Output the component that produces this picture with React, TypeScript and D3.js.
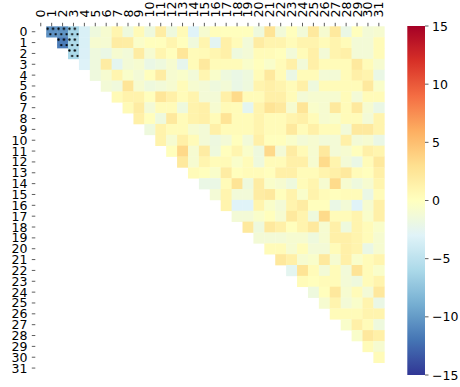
import React from "react";
import * as d3 from "d3";

// Row / column labels of the 32x32 matrix
const indexLabels: string[] = d3.range(32).map(String);

// Upper triangle: row i holds the values for columns i+1 .. 31
const rowValues: number[][] = [
  [-10.5, -10.4, -6.3, -3.4, -1.6, -0.9, 1.0, -1.6, 0.5, -1.6, 1.7, -1.6, 0.5, -3.0, -0.9, 0.2, 0.1, 0.1, 0.1, -1.6, 2.6, -1.3, 0.1, -1.3, 2.1, -0.9, 2.1, -2.0, 0.1, -1.2, -0.9],
  [-11.6, -5.8, -3.4, -0.9, -1.0, 1.8, 1.7, -0.5, 0.1, 0.1, 1.0, 0.1, -1.5, 1.0, -2.7, 1.5, 0.4, -1.3, 1.8, 1.1, 1.1, 0.4, 1.1, 1.1, 0.4, 1.1, 0.4, -1.2, -1.2, 0.4],
  [-6.0, -3.3, -1.6, -2.0, -0.9, -1.3, 1.8, -0.9, 1.0, 0.1, 2.4, 0.4, 0.5, 0.9, 1.5, -1.6, -1.2, 0.4, 0.4, 0.1, -1.3, 0.4, 1.5, -1.2, 1.1, 1.5, -1.2, -1.2, 0.4],
  [-3.1, -1.6, 1.8, -2.6, -1.2, -0.9, -2.0, -1.6, -0.9, -2.4, 0.4, 2.1, 0.4, 0.4, 0.4, -0.6, 0.1, -0.6, 0.4, 1.5, -1.3, 1.5, 0.4, 0.4, 0.4, 2.1, 0.4, -0.9],
  [-1.6, -0.9, 1.0, -0.6, -1.2, 0.1, 1.8, -0.9, -0.6, -1.3, 0.9, -0.6, -1.6, -2.0, -1.6, 0.4, 2.1, 0.4, -2.0, 0.4, 0.4, -1.2, -1.2, 0.4, 1.5, 1.1, -2.0],
  [-1.2, -1.5, 2.5, -0.9, -1.6, -1.3, -0.9, 0.4, -0.9, -1.2, -1.6, -1.2, -2.0, -1.6, 1.1, 1.5, 1.1, 0.4, 1.5, -1.6, 0.4, 0.4, 0.4, 0.4, 2.1, -0.6],
  [0.5, 1.2, 1.2, 0.1, 2.4, 1.5, 0.4, 1.1, -1.2, -1.2, 1.5, 3.3, 0.4, 0.4, 1.5, 1.5, 0.4, -1.2, -0.9, -0.9, -0.9, 0.4, -1.2, 0.4, 0.4],
  [0.5, 1.8, -1.2, 0.4, 0.4, -1.6, 1.2, 1.5, -0.9, 0.5, 0.4, -2.6, 1.1, 2.6, 2.1, -0.9, 2.5, -0.6, -0.9, 2.1, 0.4, 2.1, -0.9, -2.0],
  [1.5, 0.1, -1.6, 2.1, 0.4, 1.2, 1.5, 0.4, 2.6, 0.4, 0.4, 1.1, 0.4, 0.4, 1.1, 1.5, 0.4, -0.9, -0.6, 0.4, 0.4, -1.2, 1.1],
  [-1.6, 1.2, 0.4, 0.4, -0.9, -1.2, 1.5, 0.4, 0.4, 0.4, 1.1, 0.4, 0.4, 2.1, 0.4, 1.5, 0.4, 0.4, -1.3, 2.1, 2.1, 1.1],
  [1.2, -0.9, 1.5, 0.4, -1.2, -1.7, -1.2, 0.1, -1.3, 1.5, 0.1, 0.1, -0.6, -1.2, -0.9, -1.3, -1.2, 1.5, -1.2, -0.9, -2.0],
  [0.1, 3.4, -0.9, 1.8, -1.6, 0.1, 1.0, -0.6, -1.6, 3.4, -1.2, 1.8, 0.5, -0.9, 2.1, -1.2, -0.9, 0.1, 1.5, 1.0],
  [2.1, -0.9, 1.0, 0.4, 0.5, -0.6, 0.4, -1.6, 0.4, 0.4, 1.5, 1.5, -0.9, 3.3, 1.1, -1.2, -2.0, 0.4, 2.1],
  [0.4, 0.1, -0.6, 1.8, 0.1, 0.4, 0.4, 0.1, 1.5, 1.5, 0.4, 0.4, 1.1, 1.5, 2.1, 0.4, 0.1, 1.5],
  [-2.0, -2.0, 0.4, 2.6, -1.6, 1.8, -0.6, -0.9, -1.6, 0.4, 1.0, -0.9, 3.3, -0.9, -1.6, -0.9, 1.0],
  [-1.2, 1.0, -1.3, -1.3, 1.8, 2.1, 0.1, 1.2, -0.6, 1.2, 0.4, 0.1, 0.4, 0.4, -2.0, 0.4],
  [1.1, -3.0, -3.0, 1.1, -0.6, -1.2, 1.1, 1.8, 0.1, 0.1, -2.0, -1.2, -3.0, -0.9, 1.5],
  [-1.2, -1.2, -0.6, 0.1, -0.9, 2.1, 1.1, -1.6, 3.3, 0.4, 0.4, 1.1, -0.6, 1.5],
  [2.1, -1.6, 2.1, 1.5, 0.1, 1.1, 2.1, -0.9, 1.5, -1.6, 1.1, 0.4, -0.6],
  [-1.2, -1.2, -1.2, -0.9, -0.9, -1.6, -0.9, 1.5, 1.5, 1.1, 0.4, -0.9],
  [0.4, 0.4, -0.9, 0.3, -1.2, -1.2, 0.4, 1.5, 1.1, -2.0, -0.9],
  [2.2, 1.5, -0.9, -0.6, 2.1, -0.9, 1.5, -0.6, 0.4, 1.0],
  [-2.6, 2.6, 0.4, -1.2, 0.4, -1.3, 2.6, 0.4, -0.6],
  [0.4, 0.1, 0.4, 0.4, -1.2, -1.6, 0.4, 1.1],
  [-1.6, 0.1, 2.2, -0.9, 0.4, -1.2, 2.2],
  [-0.9, 1.1, -1.2, -0.6, 1.1, -2.0],
  [0.4, 0.4, 0.4, 1.1, 1.1],
  [-0.6, 1.5, 0.4, -1.6],
  [-0.6, 2.2, 1.5],
  [0.4, -0.9],
  [0.4],
];

// Cells flagged as significant (row, column), drawn with a dot hatch
const significantCells: [number, number][] = [
  [0, 1], [0, 2], [0, 3], [1, 2], [1, 3], [2, 3],
];

const colorbarTicks: number[] = [15, 10, 5, 0, -5, -10, -15];
const valueMin = -15;
const valueMax = 15;

const WIDTH = 460;
const HEIGHT = 387;
const PLOT = { left: 35.3, right: 384.3, top: 26.3, bottom: 373.5 };
const BAR = { left: 407.3, right: 425, top: 26, bottom: 375 };
const FONT = "'DejaVu Sans', sans-serif";
const FS = 12.5;

// Reversed RdYlBu, piecewise-linear through the 11 anchor colours
const anchors = [...d3.schemeRdYlBu[11]].reverse();
const color = d3
  .scaleLinear<string>()
  .domain(anchors.map((_, i) => valueMin + ((valueMax - valueMin) * i) / (anchors.length - 1)))
  .range(anchors)
  .interpolate(d3.interpolateRgb)
  .clamp(true);

export default function App() {
  const x = d3.scaleBand<string>().domain(indexLabels).range([PLOT.left, PLOT.right]);
  const y = d3.scaleBand<string>().domain(indexLabels).range([PLOT.top, PLOT.bottom]);
  const bw = x.bandwidth();
  const bh = y.bandwidth();

  const cells = rowValues.flatMap((vals, i) =>
    vals.map((v, k) => ({ row: i, col: i + 1 + k, value: v }))
  );

  const barScale = d3.scaleLinear().domain([valueMin, valueMax]).range([BAR.bottom, BAR.top]);
  const stops = d3.range(0, 1.0001, 0.02);

  return (
    <svg
      width={WIDTH}
      height={HEIGHT}
      style={{ position: "absolute", left: 0, top: 0, background: "#fff" }}
      fontFamily={FONT}
    >
      <defs>
        <pattern
          id="dots"
          patternUnits="userSpaceOnUse"
          x={PLOT.left}
          y={PLOT.top}
          width={bw / 2}
          height={bh}
        >
          <circle cx={1.4} cy={2.5} r={1.15} fill="#000" />
          <circle cx={4.1} cy={8.0} r={1.15} fill="#000" />
        </pattern>
        <linearGradient id="cbar" x1="0" y1="1" x2="0" y2="0">
          {stops.map((t) => (
            <stop
              key={t}
              offset={t}
              stopColor={color(valueMin + t * (valueMax - valueMin))}
            />
          ))}
        </linearGradient>
      </defs>

      {/* heatmap cells */}
      <g>
        {cells.map((c) => (
          <rect
            key={`${c.row}-${c.col}`}
            x={x(String(c.col))!}
            y={y(String(c.row))!}
            width={bw + 0.35}
            height={bh + 0.35}
            fill={color(c.value)}
          />
        ))}
      </g>
      <g>
        {significantCells.map(([r, c]) => (
          <rect
            key={`s-${r}-${c}`}
            x={x(String(c))!}
            y={y(String(r))!}
            width={bw}
            height={bh}
            fill="url(#dots)"
          />
        ))}
      </g>

      {/* top axis */}
      <g>
        {indexLabels.map((lab) => {
          const cx = x(lab)! + bw / 2;
          return (
            <g key={`xt-${lab}`}>
              <line x1={cx} x2={cx} y1={PLOT.top} y2={PLOT.top - 3.5} stroke="#333" strokeWidth={0.8} />
              <text
                transform={`translate(${cx},${17.5}) rotate(-90)`}
                dy="0.36em"
                fontSize={FS}
                textAnchor="start"
                fill="#000"
              >
                {lab}
              </text>
            </g>
          );
        })}
      </g>

      {/* left axis */}
      <g>
        {indexLabels.map((lab) => {
          const cy = y(lab)! + bh / 2;
          return (
            <g key={`yt-${lab}`}>
              <line x1={PLOT.left} x2={PLOT.left - 3.5} y1={cy} y2={cy} stroke="#333" strokeWidth={0.8} />
              <text x={27.5} y={cy} dy="0.36em" fontSize={FS} textAnchor="end" fill="#000">
                {lab}
              </text>
            </g>
          );
        })}
      </g>

      {/* colour bar */}
      <rect
        x={BAR.left}
        y={BAR.top}
        width={BAR.right - BAR.left}
        height={BAR.bottom - BAR.top}
        fill="url(#cbar)"
      />
      <g>
        {colorbarTicks.map((t) => {
          const ty = barScale(t);
          return (
            <g key={`cb-${t}`}>
              <line x1={BAR.right} x2={BAR.right + 3.5} y1={ty} y2={ty} stroke="#333" strokeWidth={0.8} />
              <text x={432} y={ty} dy="0.36em" fontSize={FS} fill="#000">
                {t < 0 ? `\u2212${Math.abs(t)}` : String(t)}
              </text>
            </g>
          );
        })}
      </g>
    </svg>
  );
}
